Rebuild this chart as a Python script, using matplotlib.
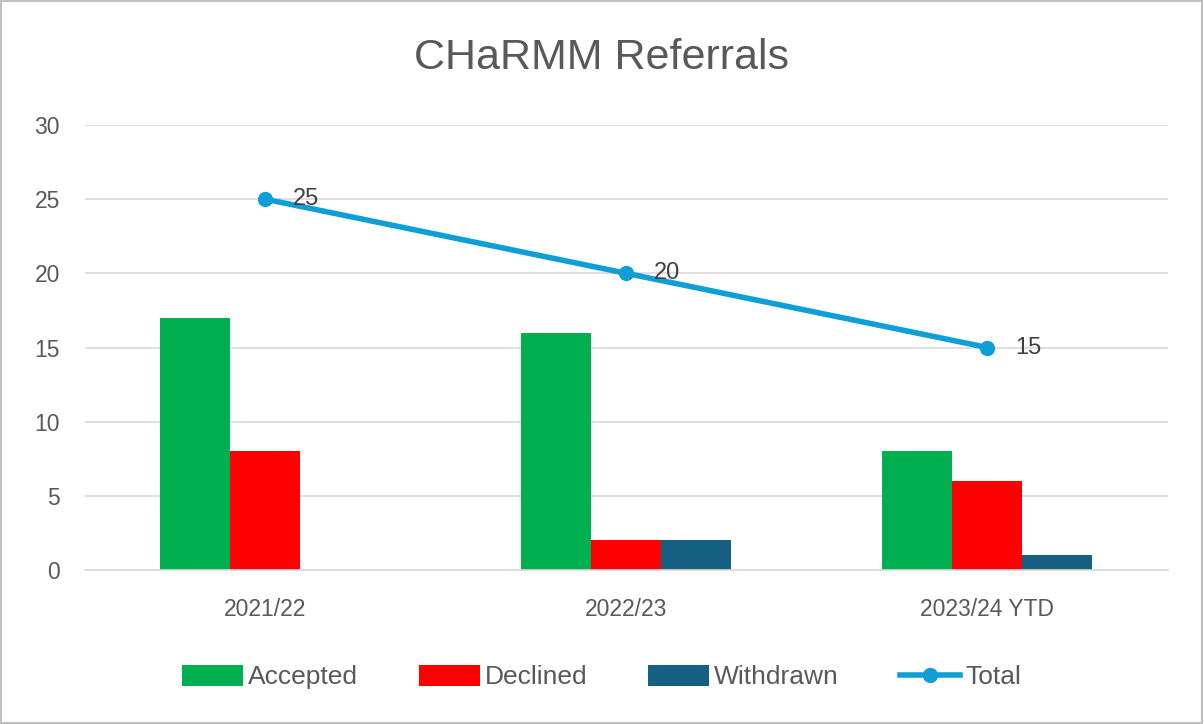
import matplotlib
matplotlib.use("Agg")
import matplotlib.pyplot as plt
import numpy as np
from matplotlib.patches import Rectangle

years = ["2021/22", "2022/23", "2023/24 YTD"]
accepted = [17, 16, 8]
declined = [8, 2, 6]
withdrawn = [0, 2, 1]
total = [25, 20, 15]

txt = "#595959"
plt.rcParams['font.family'] = ['Liberation Sans', 'DejaVu Sans']

fig = plt.figure(figsize=(12.04, 7.24), dpi=100)
ax = fig.add_axes([0.0706, 0.2127, 0.8994, 0.6146])

x = np.arange(len(years))
w = 0.194
b1 = ax.bar(x - w, accepted, w, color="#00B050", label="Accepted", zorder=2)
b2 = ax.bar(x, declined, w, color="#FF0000", label="Declined", zorder=2)
b3 = ax.bar(x + w, withdrawn, w, color="#156082", label="Withdrawn", zorder=2)
ln, = ax.plot(x, total, color="#0F9ED5", lw=4, marker="o", ms=10, label="Total", zorder=3)
for xi, t in zip(x, total):
    ax.annotate(str(t), (xi, t), xytext=(20, 0), textcoords="offset points",
                va="center", ha="left", fontsize=17, color="#404040")

ax.set_xlim(-0.5, 2.5)
ax.set_ylim(0, 30)
ax.set_yticks(range(0, 31, 5))
ax.set_xticks(x)
ax.set_xticklabels(years)
ax.grid(axis="y", color="#D9D9D9", lw=1.2, zorder=0)
for s in ["top", "right", "left"]:
    ax.spines[s].set_visible(False)
ax.spines["bottom"].set_color("#D9D9D9")
ax.spines["bottom"].set_linewidth(1.2)
ax.tick_params(length=0, labelsize=16.5, labelcolor=txt)
ax.tick_params(axis="x", pad=20)
ax.tick_params(axis="y", pad=18)

fig.text(0.5, 0.92, "CHaRMM Referrals", ha="center", va="center", fontsize=31, color=txt)
fig.legend(handles=[b1, b2, b3, ln], loc="lower center", bbox_to_anchor=(0.5, 0.015),
           ncol=4, frameon=False, fontsize=19, labelcolor=txt, handlelength=2.3,
           handleheight=0.85, columnspacing=2.3, handletextpad=0.2)

fig.add_artist(Rectangle((0.001, 0.001), 0.997, 0.997, transform=fig.transFigure,
                         fill=False, ec="#BFBFBF", lw=1.5))
fig.savefig("out.png", dpi=100)
